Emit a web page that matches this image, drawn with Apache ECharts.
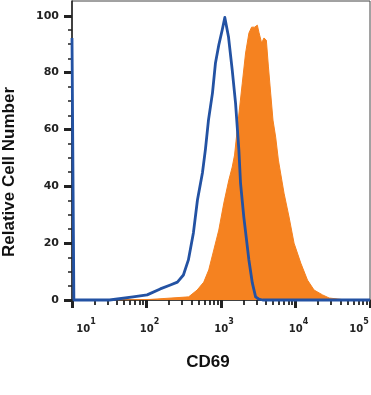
<!DOCTYPE html>
<html>
<head>
<meta charset="utf-8">
<script src="https://cdn.jsdelivr.net/npm/echarts@6/dist/echarts.min.js"></script>
<style>html,body{margin:0;padding:0;background:#fff;}#c{width:371px;height:395px;}</style>
</head>
<body>
<div id="c"></div>
<script>
// CD69 intensity (x) and relative cell number (y)
const blueX = [10, 10.6, 32, 66, 102, 153, 209, 260, 313, 365, 426, 483, 563, 618, 679, 768, 843, 934, 1038, 1125, 1262, 1415, 1568, 1737, 1830, 2028, 2368, 2632, 2915, 3200, 3623, 100000];
const blueY = [92.2, 0, 0, 1.1, 1.8, 3.9, 5.3, 6.3, 8.8, 14.1, 23.6, 35.2, 44.7, 53.0, 63.3, 72.8, 83.4, 89.7, 95.0, 99.4, 92.5, 80.9, 69.3, 52.8, 41.0, 29.0, 14.1, 6.0, 1.1, 0.35, 0, 0];
const orangeX = [30.5, 112, 368, 478, 587, 685, 800, 934, 1091, 1274, 1415, 1520, 1704, 1930, 2138, 2368, 2575, 2827, 3073, 3229, 3512, 3771, 4063, 4323, 4642, 4984, 5420, 5894, 7013, 8188, 9561, 11770, 14490, 17770, 23070, 28310, 47520];
const orangeY = [0, 0.2, 1.1, 3.5, 6.3, 10.6, 17.6, 24.6, 34.1, 42.2, 46.8, 51.0, 63.3, 76.3, 86.9, 93.9, 96.0, 96.0, 96.7, 94.2, 90.4, 92.2, 91.4, 82.3, 72.8, 63.3, 57.3, 49.2, 37.6, 29.2, 20.0, 13.0, 7.0, 3.5, 1.8, 0.7, 0];
const xMajorTicks = [10, 100, 1000, 10000, 100000];
const xMinorTicks = [20,30,40,50,60,70,80,90, 200,300,400,500,600,700,800,900, 2000,3000,4000,5000,6000,7000,8000,9000, 20000,30000,40000,50000,60000,70000,80000,90000];
const yMajorTicks = [0, 20, 40, 60, 80, 100];
const yMinorTicks = [5,10,15,25,30,35,45,50,55,65,70,75,85,90,95];

const chart = echarts.init(document.getElementById('c'), null, {renderer: 'canvas'});
const dark = '#222';
const xBase = {
  type: 'log', logBase: 10, min: 10, max: 100000, gridIndex: 0, position: 'bottom',
  splitLine: {show: false}
};
const yBase = {
  type: 'value', min: 0, max: 105.2, gridIndex: 0, position: 'left',
  splitLine: {show: false}
};
chart.setOption({
  animation: false,
  grid: {left: 72, right: 1, top: 1, bottom: 95, show: true, borderColor: '#444', borderWidth: 1, outerBoundsMode: 'none', containLabel: false},
  xAxis: [
    Object.assign({}, xBase, {
      name: 'CD69', nameLocation: 'middle', nameGap: 54,
      nameTextStyle: {fontFamily: 'Liberation Sans', fontWeight: 'bold', fontSize: 17, color: '#111', padding: [0, 26, 0, 0]},
      axisLine: {show: true, lineStyle: {color: dark, width: 1.5}},
      axisTick: {show: true, inside: false, customValues: xMajorTicks, length: 8, lineStyle: {color: dark, width: 3}},
      axisLabel: {
        show: true, customValues: xMajorTicks, margin: 18,
        formatter: function (v) {
          const e = Math.round(Math.log10(v));
          const pre = e === 1 ? '{p1|}' : (e === 5 ? '' : '{p|}');
          const post = e === 5 ? '{q|}' : '';
          return pre + '{b|10}{s|' + e + '}' + post;
        },
        rich: {
          b: {fontFamily: 'DejaVu Sans', fontWeight: 'bold', fontSize: 10, color: dark, verticalAlign: 'bottom', lineHeight: 16},
          s: {fontFamily: 'DejaVu Sans', fontWeight: 'bold', fontSize: 8, color: dark, verticalAlign: 'top', lineHeight: 16},
          p: {width: 6}, p1: {width: 28}, q: {width: 22}
        }
      }
    }),
    Object.assign({}, xBase, {
      axisLine: {show: false},
      axisTick: {show: true, inside: false, customValues: xMinorTicks, length: 5, lineStyle: {color: dark, width: 1.8}},
      axisLabel: {show: false}
    })
  ],
  yAxis: [
    Object.assign({}, yBase, {
      name: 'Relative Cell Number', nameLocation: 'middle', nameGap: 54,
      nameTextStyle: {fontFamily: 'Liberation Sans', fontWeight: 'bold', fontSize: 17, color: '#111', padding: [0, 43, 0, 0]},
      axisLine: {show: true, lineStyle: {color: dark, width: 1.5}},
      axisTick: {show: true, inside: false, customValues: yMajorTicks, length: 8, lineStyle: {color: dark, width: 3}},
      axisLabel: {show: true, customValues: yMajorTicks, margin: 13, fontFamily: 'DejaVu Sans', fontWeight: 'bold', fontSize: 11, color: dark}
    }),
    Object.assign({}, yBase, {
      axisLine: {show: false},
      axisTick: {show: true, inside: false, customValues: yMinorTicks, length: 4, lineStyle: {color: dark, width: 1.5}},
      axisLabel: {show: false}
    })
  ],
  series: [
    {
      type: 'line', xAxisIndex: 0, yAxisIndex: 0, symbol: 'none', z: 2,
      data: orangeX.map((x, i) => [x, orangeY[i]]),
      lineStyle: {color: '#f58220', width: 1},
      areaStyle: {color: '#f58220', opacity: 1}
    },
    {
      type: 'line', xAxisIndex: 0, yAxisIndex: 0, symbol: 'none', z: 3, clip: false,
      data: blueX.map((x, i) => [x, blueY[i]]),
      lineStyle: {color: '#2352a3', width: 2.8, join: 'round'}
    }
  ]
});
</script>
</body>
</html>
